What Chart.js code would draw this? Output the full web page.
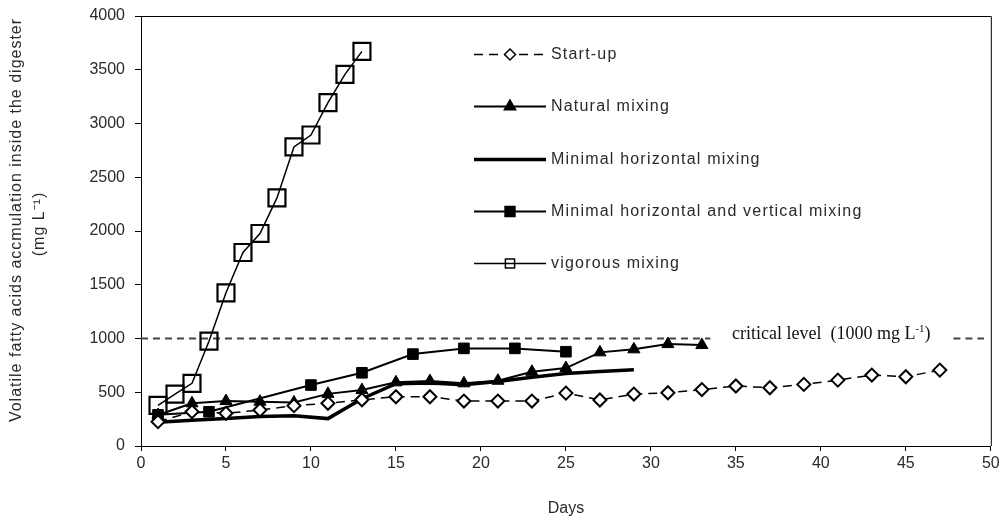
<!DOCTYPE html>
<html>
<head>
<meta charset="utf-8">
<script src="https://cdn.jsdelivr.net/npm/chart.js@4.4.1/dist/chart.umd.min.js"></script>
<style>
  html, body { margin: 0; padding: 0; background: #fff; }
  #wrap { width: 1005px; height: 524px; position: relative; }
</style>
</head>
<body>
<div id="wrap"><canvas id="vfa-chart"></canvas></div>
<script>
// VFA accumulation (mg/L) per day
const startupDays = [1, 3, 5, 7, 9, 11, 13, 15, 17, 19, 21, 23, 25, 27, 29, 31, 33, 35, 37, 39, 41, 43, 45, 47];
const startupVfa = [226, 319, 304, 335, 375, 397, 430, 458, 458, 418, 418, 418, 492, 428, 483, 495, 525, 558, 542, 573, 613, 660, 644, 706];

const naturalDays = [1, 3, 5, 7, 9, 11, 13, 15, 17, 19, 21, 23, 25, 27, 29, 31, 33];
const naturalVfa = [288, 397, 418, 412, 405, 485, 520, 592, 604, 583, 607, 690, 725, 871, 899, 948, 939];

const minHorizDays = [1, 3, 5, 7, 9, 11, 13, 15, 17, 19, 21, 23, 25, 27, 29];
const minHorizVfa = [222, 240, 255, 275, 282, 255, 440, 580, 585, 570, 600, 640, 675, 692, 710];

const minHorizVertDays = [1, 4, 10, 13, 16, 19, 22, 25];
const minHorizVertVfa = [290, 318, 567, 681, 855, 908, 908, 877];

const vigorousDays = [1, 2, 3, 4, 5, 6, 7, 8, 9, 10, 11, 12, 13];
const vigorousVfa = [378, 483, 583, 975, 1425, 1800, 1977, 2308, 2782, 2893, 3194, 3457, 3671];

// critical level line, broken where its label sits
const criticalDays = [0, 33.5, 40, 47.8, 49.6];
const criticalVfa = [1000, 1000, null, 1000, 1000];

const xTickValues = [0, 5, 10, 15, 20, 25, 30, 35, 40, 45, 50];
const yTickValues = [0, 500, 1000, 1500, 2000, 2500, 3000, 3500, 4000];

const seriesNames = ['Start-up', 'Natural mixing', 'Minimal horizontal mixing',
  'Minimal horizontal and vertical mixing', 'vigorous mixing'];

function toPoints(days, values) {
  return days.map((d, i) => ({ x: d, y: values[i] }));
}

const FONT = "'Liberation Sans', Arial, sans-serif";
const SERIF = "'Liberation Serif', 'Times New Roman', serif";
const TEXT = '#2a2a2a';

// legend markers are a bit smaller than the ones on the curves
const legendRadius = [5.5, 6.5, 0, 7, 6.5];

const extrasPlugin = {
  id: 'extras',
  afterDatasetsDraw(chart) {
    const ctx = chart.ctx;
    const area = chart.chartArea;
    ctx.save();

    // plot frame (top and right edges)
    ctx.strokeStyle = '#000';
    ctx.lineWidth = 1;
    ctx.beginPath();
    ctx.moveTo(area.left, area.top + 0.5);
    ctx.lineTo(area.right + 0.5, area.top + 0.5);
    ctx.lineTo(area.right + 0.5, area.bottom);
    ctx.stroke();

    // y axis title, two rotated lines
    ctx.save();
    ctx.fillStyle = TEXT;
    ctx.font = '16px ' + FONT;
    ctx.letterSpacing = '1px';
    ctx.textAlign = 'center';
    ctx.textBaseline = 'middle';
    ctx.translate(17, 220);
    ctx.rotate(-Math.PI / 2);
    ctx.fillText('Volatile fatty acids accmulation inside the digester', 0, 0);
    ctx.fillText('(mg L\u207B\u00B9)', -4, 23);
    ctx.restore();

    // critical level label
    const yCrit = chart.scales.y.getPixelForValue(1000);
    ctx.fillStyle = '#111';
    ctx.textBaseline = 'alphabetic';
    ctx.font = '18px ' + SERIF;
    let tx = 732;
    const base = yCrit + 0;
    const main = 'critical level  (1000 mg L';
    ctx.fillText(main, tx, base);
    tx += ctx.measureText(main).width;
    ctx.font = '11px ' + SERIF;
    ctx.fillText('-1', tx, base - 7);
    tx += ctx.measureText('-1').width;
    ctx.font = '18px ' + SERIF;
    ctx.fillText(')', tx, base);

    // legend
    const x1 = 474, x2 = 546, textX = 551, top = 54, gap = 52.3;
    ctx.font = '16px ' + FONT;
    ctx.letterSpacing = '1.2px';
    ctx.textBaseline = 'middle';
    for (let i = 0; i < seriesNames.length; i++) {
      const ds = chart.data.datasets[i];
      const y = Math.round(top + i * gap) + 0.5;
      ctx.strokeStyle = '#000';
      ctx.lineWidth = ds.borderWidth;
      ctx.setLineDash(ds.borderDash || []);
      ctx.beginPath();
      ctx.moveTo(x1, y);
      ctx.lineTo(x2, y);
      ctx.stroke();
      ctx.setLineDash([]);
      if (legendRadius[i] > 0) {
        ctx.fillStyle = ds.pointBackgroundColor;
        ctx.strokeStyle = '#000';
        ctx.lineWidth = 1.5;
        Chart.helpers.drawPoint(ctx, {
          pointStyle: ds.pointStyle, rotation: 0,
          radius: legendRadius[i], borderWidth: 1.5
        }, (x1 + x2) / 2, y);
      }
      ctx.fillStyle = TEXT;
      ctx.fillText(seriesNames[i], textX, y);
    }
    ctx.restore();
  }
};

new Chart(document.getElementById('vfa-chart'), {
  type: 'line',
  data: {
    datasets: [
      {
        label: seriesNames[0],
        data: toPoints(startupDays, startupVfa),
        borderColor: '#000', borderWidth: 1.5, borderDash: [9, 6],
        pointStyle: 'rectRot', pointRadius: 6.5, pointBorderWidth: 2,
        pointBackgroundColor: '#fff', pointBorderColor: '#000'
      },
      {
        label: seriesNames[1],
        data: toPoints(naturalDays, naturalVfa),
        borderColor: '#000', borderWidth: 2,
        pointStyle: 'triangle', pointRadius: 7, pointBorderWidth: 1,
        pointBackgroundColor: '#000', pointBorderColor: '#000'
      },
      {
        label: seriesNames[2],
        data: toPoints(minHorizDays, minHorizVfa),
        borderColor: '#000', borderWidth: 3.5,
        pointRadius: 0, pointStyle: 'line', pointBackgroundColor: '#000'
      },
      {
        label: seriesNames[3],
        data: toPoints(minHorizVertDays, minHorizVertVfa),
        borderColor: '#000', borderWidth: 2,
        pointStyle: 'rect', pointRadius: 7.5, pointBorderWidth: 1,
        pointBackgroundColor: '#000', pointBorderColor: '#000'
      },
      {
        label: seriesNames[4],
        data: toPoints(vigorousDays, vigorousVfa),
        borderColor: '#000', borderWidth: 1.5,
        pointStyle: 'rect', pointRadius: 12, pointBorderWidth: 2.2,
        pointBackgroundColor: 'rgba(0,0,0,0)', pointBorderColor: '#000'
      },
      {
        label: 'critical level',
        data: toPoints(criticalDays, criticalVfa),
        borderColor: '#444', borderWidth: 2, borderDash: [7, 5],
        pointRadius: 0, spanGaps: false
      }
    ]
  },
  options: {
    responsive: true,
    maintainAspectRatio: false,
    animation: false,
    layout: { padding: { top: 16, right: 13, left: 0, bottom: 0 } },
    plugins: {
      legend: { display: false },
      tooltip: { enabled: false }
    },
    scales: {
      x: {
        type: 'linear', min: 0, max: 50,
        afterBuildTicks: (scale) => { scale.ticks = xTickValues.map(v => ({ value: v })); },
        afterFit: (scale) => { scale.height = 78; },
        grid: { drawOnChartArea: false, drawTicks: true, tickLength: 5, color: '#000' },
        border: { display: true, color: '#000', width: 1 },
        ticks: { color: TEXT, font: { family: FONT, size: 16 }, padding: 3, maxRotation: 0 },
        title: {
          display: true, text: 'Days', color: TEXT,
          font: { family: FONT, size: 16 }, padding: { top: 0, bottom: 6 }
        }
      },
      y: {
        type: 'linear', min: 0, max: 4000,
        afterBuildTicks: (scale) => { scale.ticks = yTickValues.map(v => ({ value: v })); },
        afterFit: (scale) => {
          scale.width = 141;
          scale.paddingTop = 0;
          scale.paddingBottom = 0;
        },
        grid: { drawOnChartArea: false, drawTicks: true, tickLength: 6, color: '#000' },
        border: { display: true, color: '#000', width: 1 },
        ticks: {
          color: TEXT, font: { family: FONT, size: 16 }, padding: 10,
          callback: (value) => String(value)
        }
      }
    }
  },
  plugins: [extrasPlugin]
});
</script>
</body>
</html>
